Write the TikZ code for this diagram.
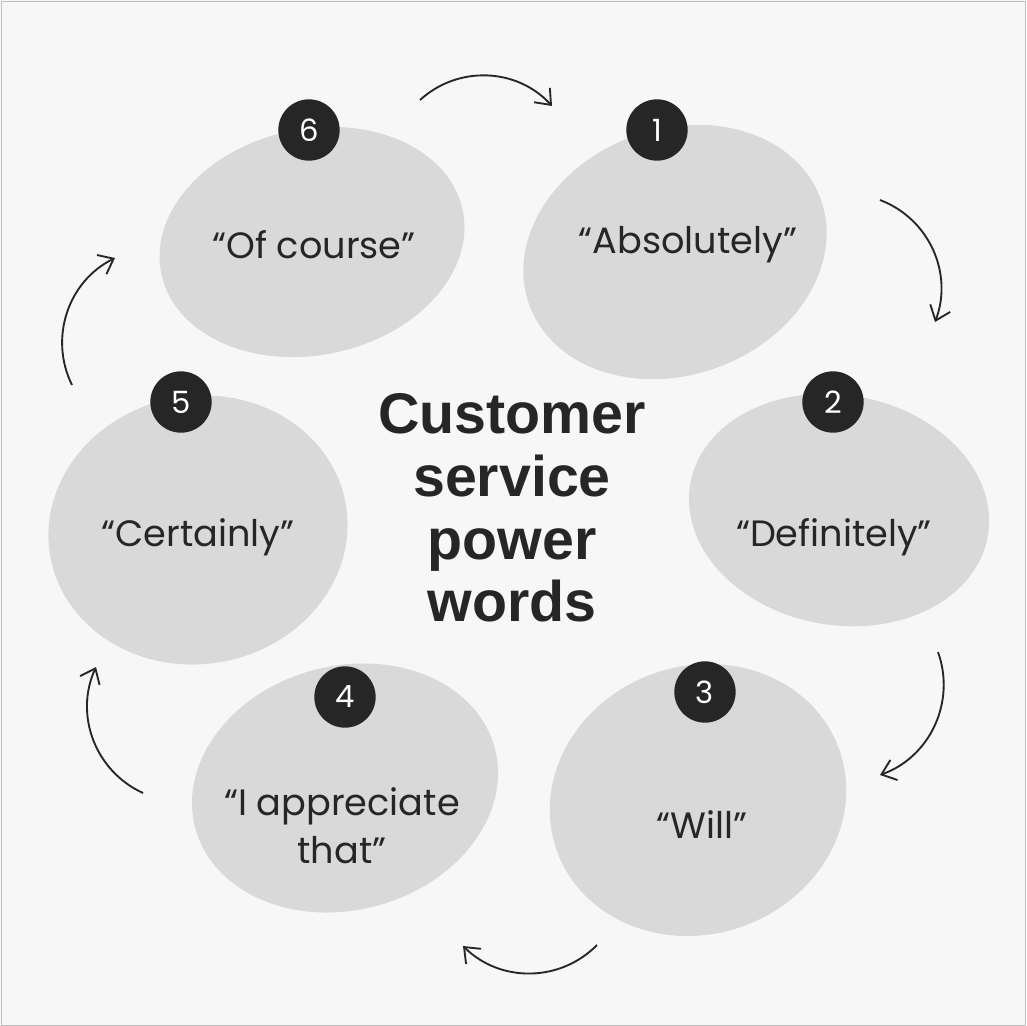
\documentclass[tikz,border=0pt]{standalone}
\usepackage{fontspec}
\setmainfont{Poppins}
\newfontfamily\titlefont{Liberation Sans}
\usetikzlibrary{arrows.meta}
\begin{document}
\begin{tikzpicture}[x=0.75pt,y=-0.75pt,
  badge/.style={circle,fill=badgedark,minimum size=46pt,inner sep=0pt,text=white,font=\fontsize{23}{23}\selectfont},
  lbl/.style={font=\fontsize{27.5}{36}\selectfont,text=textdark,align=center},
  arr/.style={line width=1.4pt,draw=textdark,-{Straight Barb[length=10pt,width=16pt,line width=1.4pt]}}]
\definecolor{blobgray}{HTML}{D9D9D9}
\definecolor{badgedark}{HTML}{262626}
\definecolor{textdark}{HTML}{262626}
\definecolor{bg}{HTML}{F7F7F7}
\useasboundingbox (0,0) rectangle (1026,1026);
\fill[bg] (0,0) rectangle (1026,1026);
\draw[gray!50] (1,1) rectangle (1025,1025);
% blobs
\fill[blobgray,rotate around={12:(312,242)}] (312,242) ellipse (154 and 113);
\fill[blobgray,rotate around={20:(675,252)}] (675,252) ellipse (155 and 123);
\fill[blobgray,rotate around={-10:(839,510)}] (839,510) ellipse (151 and 115);
\fill[blobgray,rotate around={10:(198,530)}] (198,530) ellipse (150 and 134);
\fill[blobgray,rotate around={15:(345,788)}] (345,788) ellipse (155 and 122);
\fill[blobgray,rotate around={20:(698,800)}] (698,800) ellipse (150 and 134);
% labels
\node[lbl] (t6) at (314,245) {“Of course”};
\node[lbl] (t1) at (688,245) {“Absolutely”};
\node[lbl] (t2) at (834,537) {“Definitely”};
\node[lbl] (t5) at (198,537) {“Certainly”};
\node[lbl] (t4) at (342,826) {“I appreciate\\that”};
\node[lbl] (t3) at (702,825) {“Will”};
% badges
\node[badge] (b6) at (309,130) {6};
\node[badge] (b1) at (657,130) {1};
\node[badge] (b2) at (833,402) {2};
\node[badge] (b5) at (181,402) {5};
\node[badge] (b4) at (345,697) {4};
\node[badge] (b3) at (705,692) {3};
% title
\node[font=\titlefont\bfseries\fontsize{43}{47}\selectfont,text=textdark,align=center] (title) at (512,508) {Customer\\service\\power\\words};
% arrows
\coordinate (a1s) at (420,100); \coordinate (a1e) at (552,106);
\coordinate (a2s) at (880,200); \coordinate (a2e) at (935,322);
\coordinate (a3s) at (938,652); \coordinate (a3e) at (880,775);
\coordinate (a4s) at (597,945); \coordinate (a4e) at (463,946);
\coordinate (a5s) at (143,793); \coordinate (a5e) at (96,667);
\coordinate (a6s) at (72,385); \coordinate (a6e) at (115,258);
\draw[arr] (a1s) to[bend left=45] (a1e);
\draw[arr] (a2s) to[bend left=45] (a2e);
\draw[arr] (a3s) to[bend left=45] (a3e);
\draw[arr] (a4s) to[bend left=45] (a4e);
\draw[arr] (a5s) to[bend left=45] (a5e);
\draw[arr] (a6s) to[bend left=45] (a6e);
\end{tikzpicture}
\end{document}
